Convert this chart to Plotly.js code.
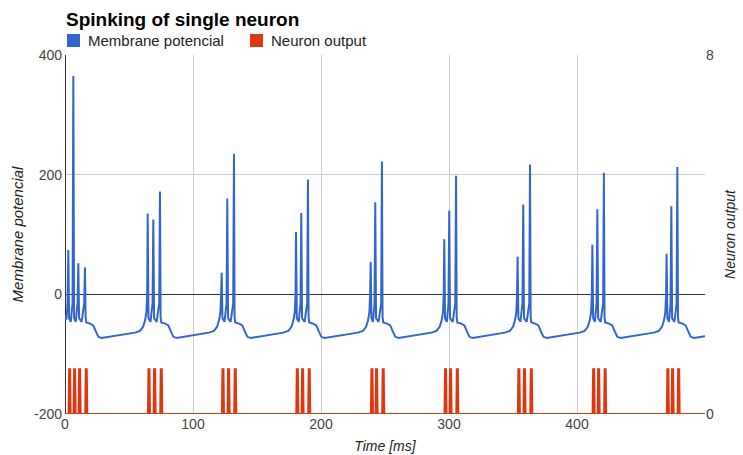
<!DOCTYPE html>
<html>
<head>
<meta charset="utf-8">
<script src="https://cdn.plot.ly/plotly-3.0.1.min.js"></script>
<style>html,body{margin:0;padding:0;background:#fff;}#chart{width:743px;height:455px;}</style>
</head>
<body>
<div id="chart"></div>
<script>
// Membrane potential (time in ms, value)
const memT = [
  0, 1.2, 2.0, 2.6, 3.2, 4.5, 5.9, 6.5, 7.1, 8.4, 9.8, 10.4, 11.0, 13.0, 15.0, 15.6, 16.1, 16.6, 19.6, 22.1, 24.1, 26.1, 28.6, 37.6, 47.6,
  54.6, 58.6, 61.1, 62.6, 63.6, 64.2, 64.6, 65.2, 66.8, 68.4, 69.0, 69.6, 71.6, 73.6, 74.2, 74.7, 75.2, 78.2, 80.7, 82.7, 84.7, 87.2, 96.2, 106.2,
  112.4, 116.4, 118.9, 120.4, 121.4, 122.0, 122.4, 123.0, 124.6, 126.2, 126.8, 127.4, 129.4, 131.4, 132.0, 132.5, 133.0, 136.0, 138.5, 140.5, 142.5, 145.0, 154.0, 164.0,
  170.5, 174.5, 177.0, 178.5, 179.5, 180.1, 180.5, 181.1, 182.6, 184.0, 184.6, 185.2, 187.2, 189.2, 189.8, 190.3, 190.8, 193.8, 196.3, 198.3, 200.3, 202.8, 211.8, 221.8,
  228.8, 232.8, 235.3, 236.8, 237.8, 238.4, 238.8, 239.4, 240.6, 241.8, 242.4, 243.0, 245.0, 247.0, 247.6, 248.1, 248.6, 251.6, 254.1, 256.1, 258.1, 260.6, 269.6, 279.6,
  286.3, 290.3, 292.8, 294.3, 295.3, 295.9, 296.3, 296.9, 298.3, 299.6, 300.2, 300.8, 302.9, 304.9, 305.5, 306.0, 306.5, 309.5, 312.0, 314.0, 316.0, 318.5, 327.5, 337.5,
  343.6, 347.6, 350.1, 351.6, 352.6, 353.2, 353.6, 354.2, 355.8, 357.4, 358.0, 358.6, 360.7, 362.7, 363.3, 363.8, 364.3, 367.3, 369.8, 371.8, 373.8, 376.3, 385.3, 395.3,
  402.0, 406.0, 408.5, 410.0, 411.0, 411.6, 412.0, 412.6, 414.0, 415.3, 415.9, 416.5, 418.5, 420.4, 421.0, 421.5, 422.0, 425.0, 427.5, 429.5, 431.5, 434.0, 443.0, 453.0,
  460.0, 464.0, 466.5, 468.0, 469.0, 469.6, 470.0, 470.6, 471.9, 473.1, 473.7, 474.3, 476.1, 477.8, 478.4, 478.9, 479.4, 482.4, 484.9, 486.9, 488.9, 491.4, 500.0
];
const memV = [
  -35, -42, -15, 74, -40, -46, -15, 365, -40, -46, -15, 52, -40, -46, -15, 45, -38, -47, -49, -52, -62, -71, -73, -70, -67,
  -64, -61, -54, -43, -30, 0, 135, -40, -46, -15, 125, -40, -46, -15, 172, -38, -47, -49, -52, -62, -71, -73, -70, -67,
  -64, -61, -54, -43, -30, 0, 36, -40, -46, -15, 160, -40, -46, -15, 235, -38, -47, -49, -52, -62, -71, -73, -70, -67,
  -64, -61, -54, -43, -30, 0, 104, -40, -46, -15, 136, -40, -46, -15, 192, -38, -47, -49, -52, -62, -71, -73, -70, -67,
  -64, -61, -54, -43, -30, 0, 54, -40, -46, -15, 154, -40, -46, -15, 222, -38, -47, -49, -52, -62, -71, -73, -70, -67,
  -64, -61, -54, -43, -30, 0, 92, -40, -46, -15, 140, -40, -46, -15, 198, -38, -47, -49, -52, -62, -71, -73, -70, -67,
  -64, -61, -54, -43, -30, 0, 63, -40, -46, -15, 150, -40, -46, -15, 217, -38, -47, -49, -52, -62, -71, -73, -70, -67,
  -64, -61, -54, -43, -30, 0, 83, -40, -46, -15, 142, -40, -46, -15, 203, -38, -47, -49, -52, -62, -71, -73, -70, -67,
  -64, -61, -54, -43, -30, 0, 68, -40, -46, -15, 147, -40, -46, -15, 213, -38, -47, -49, -52, -62, -71, -73, -70
];
// Neuron output pulses (time in ms, value 0/1)
const outT = [0,
  2.8, 3.2, 4.0, 4.4,   6.7, 7.1, 7.9, 8.3,   10.6, 11.0, 11.8, 12.2,   15.8, 16.2, 17.0, 17.4,
  64.8, 65.2, 66.0, 66.4,   69.2, 69.6, 70.4, 70.8,   74.4, 74.8, 75.6, 76.0,
  122.6, 123.0, 123.8, 124.2,   127.0, 127.4, 128.2, 128.6,   132.2, 132.6, 133.4, 133.8,
  180.7, 181.1, 181.9, 182.3,   184.8, 185.2, 186.0, 186.4,   190.0, 190.4, 191.2, 191.6,
  239.0, 239.4, 240.2, 240.6,   242.6, 243.0, 243.8, 244.2,   247.8, 248.2, 249.0, 249.4,
  296.5, 296.9, 297.7, 298.1,   300.4, 300.8, 301.6, 302.0,   305.7, 306.1, 306.9, 307.3,
  353.8, 354.2, 355.0, 355.4,   358.2, 358.6, 359.4, 359.8,   363.5, 363.9, 364.7, 365.1,
  412.2, 412.6, 413.4, 413.8,   416.1, 416.5, 417.3, 417.7,   421.2, 421.6, 422.4, 422.8,
  470.2, 470.6, 471.4, 471.8,   473.9, 474.3, 475.1, 475.5,   478.6, 479.0, 479.8, 480.2,
  500];
const outV = [0,
  0, 1, 1, 0,   0, 1, 1, 0,   0, 1, 1, 0,   0, 1, 1, 0,
  0, 1, 1, 0,   0, 1, 1, 0,   0, 1, 1, 0,
  0, 1, 1, 0,   0, 1, 1, 0,   0, 1, 1, 0,
  0, 1, 1, 0,   0, 1, 1, 0,   0, 1, 1, 0,
  0, 1, 1, 0,   0, 1, 1, 0,   0, 1, 1, 0,
  0, 1, 1, 0,   0, 1, 1, 0,   0, 1, 1, 0,
  0, 1, 1, 0,   0, 1, 1, 0,   0, 1, 1, 0,
  0, 1, 1, 0,   0, 1, 1, 0,   0, 1, 1, 0,
  0, 1, 1, 0,   0, 1, 1, 0,   0, 1, 1, 0,
  0];
const seriesNames = ['Membrane potencial', 'Neuron output'];
const xTicks = [0, 100, 200, 300, 400];
const yTicks = [-200, 0, 200, 400];
const y2Ticks = [0, 8];
const colors = ['#3366cc', '#dc3912'];

const FONT = 'Arial, "Liberation Sans", sans-serif';
const traces = [
  {x: memT, y: memV, type: 'scatter', mode: 'lines', name: seriesNames[0],
   line: {color: colors[0], width: 2}, yaxis: 'y', showlegend: false, hoverinfo: 'none'},
  {x: outT, y: outV, type: 'scatter', mode: 'lines', name: seriesNames[1],
   line: {color: colors[1], width: 2}, yaxis: 'y2', showlegend: false, cliponaxis: false, hoverinfo: 'none'}
];

const W = 743, H = 455, L = 65, R = 38, T = 55, B = 41;
const pw = W - L - R, ph = H - T - B;
const px = v => (v - L) / pw;
const py = v => (H - B - v) / ph;

const layout = {
  width: W, height: H,
  margin: {l: L, r: R, t: T, b: B, pad: 0},
  paper_bgcolor: '#fff', plot_bgcolor: '#fff',
  font: {family: FONT, size: 14, color: '#444'},
  title: {text: 'Spinking of single neuron', x: 66 / W, xanchor: 'left', xref: 'container',
          y: 1 - 19 / H, yanchor: 'middle', yref: 'container',
          font: {family: FONT, size: 19, weight: 'bold', color: '#000'}},
  showlegend: false,
  xaxis: {range: [0, 500], tickvals: xTicks, ticktext: xTicks.map(String),
          showgrid: true, gridcolor: '#cccccc', gridwidth: 1,
          zeroline: true, zerolinecolor: '#333333', zerolinewidth: 1,
          showline: false, ticks: '', fixedrange: true,
          tickfont: {family: FONT, size: 14, color: '#444'},
          title: {text: 'Time [ms]', standoff: 10, font: {family: FONT, size: 14, color: '#222', style: 'italic'}}},
  yaxis: {range: [-200, 400], tickvals: yTicks, ticktext: yTicks.map(String),
          showgrid: true, gridcolor: '#cccccc', gridwidth: 1,
          zeroline: true, zerolinecolor: '#333333', zerolinewidth: 1,
          showline: false, ticks: '', fixedrange: true, ticklabelstandoff: 2,
          tickfont: {family: FONT, size: 14, color: '#444'},
          title: {text: 'Membrane potencial', standoff: 6, font: {family: FONT, size: 15, color: '#222', style: 'italic'}}},
  yaxis2: {range: [0, 8], tickvals: y2Ticks, ticktext: y2Ticks.map(String),
           overlaying: 'y', side: 'right', showgrid: false, zeroline: false, showline: false, ticks: '', fixedrange: true,
           tickfont: {family: FONT, size: 14, color: '#444'},
           title: {text: 'Neuron output', standoff: 12, font: {family: FONT, size: 14, color: '#222', style: 'italic'}}},
  shapes: [
    {type: 'rect', xref: 'paper', yref: 'paper', x0: px(67), x1: px(80), y0: py(47), y1: py(34),
     fillcolor: colors[0], line: {width: 0}},
    {type: 'rect', xref: 'paper', yref: 'paper', x0: px(250), x1: px(263), y0: py(47), y1: py(34),
     fillcolor: colors[1], line: {width: 0}}
  ],
  annotations: [
    {text: seriesNames[0], xref: 'paper', yref: 'paper', x: px(86), y: py(40.5), xanchor: 'left', yanchor: 'middle',
     showarrow: false, font: {family: FONT, size: 15, color: '#222'}},
    {text: seriesNames[1], xref: 'paper', yref: 'paper', x: px(269), y: py(40.5), xanchor: 'left', yanchor: 'middle',
     showarrow: false, font: {family: FONT, size: 15, color: '#222'}}
  ]
};

Plotly.newPlot('chart', traces, layout, {staticPlot: true, displayModeBar: false});
</script>
</body>
</html>
